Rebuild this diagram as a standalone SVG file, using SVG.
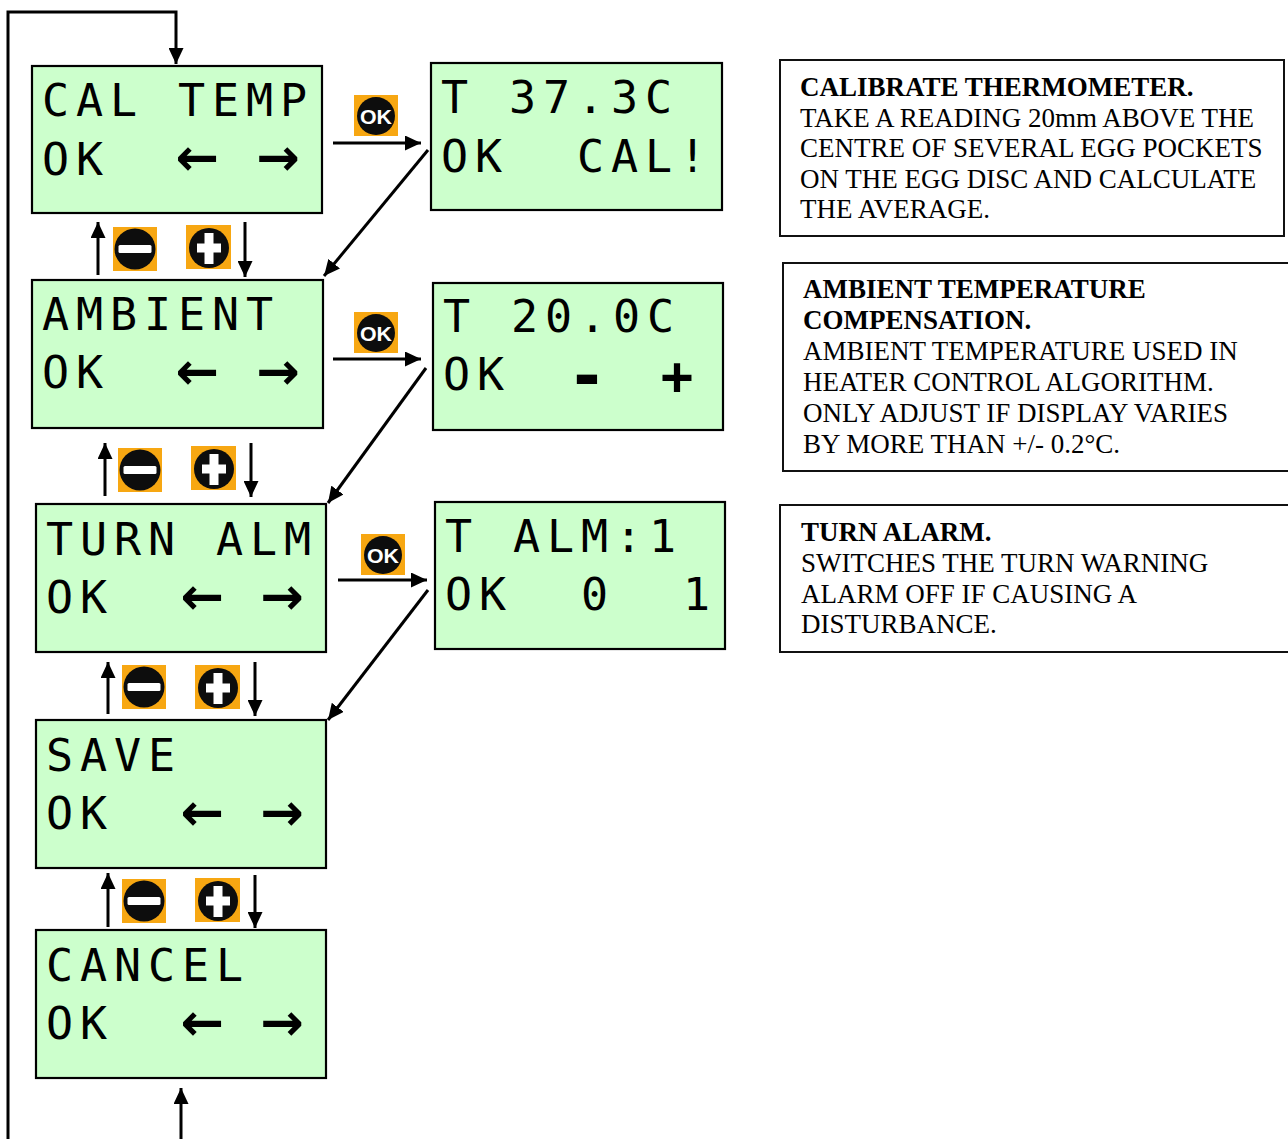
<svg xmlns="http://www.w3.org/2000/svg" width="1288" height="1139" viewBox="0 0 1288 1139">
<defs>
<style>
.lcd{fill:#ccffcc;stroke:#000;stroke-width:2.2}
.lt{font-family:"DejaVu Sans Mono",monospace;font-size:45px;fill:#000;letter-spacing:6.9px;white-space:pre}
.ar{font-family:"DejaVu Sans",sans-serif;font-weight:bold;font-size:52px;fill:#000;text-anchor:middle}
.note{fill:#fff;stroke:#111;stroke-width:2}
.nt{font-family:"Liberation Serif","Times New Roman",serif;font-size:27px;fill:#000}
.nb{font-weight:bold}
.con{fill:none;stroke:#000;stroke-width:3}
.org{fill:#f7a712}
.blk{fill:#0d0d0d}
.wht{fill:#fff}
.okt{font-family:"Liberation Sans",Arial,sans-serif;font-weight:bold;font-size:21px;fill:#fff;text-anchor:middle}
</style>
<marker id="ah" markerUnits="userSpaceOnUse" viewBox="0 0 16 15" refX="16" refY="7.5" markerWidth="16" markerHeight="15" orient="auto">
<path d="M0,0 L16,7.5 L0,15 z" fill="#000"/>
</marker>
<symbol id="minus" viewBox="0 0 44 44">
<rect class="org" x="0" y="0" width="44" height="44"/>
<circle class="blk" cx="22" cy="22" r="20.5"/>
<rect class="wht" x="5.5" y="18" width="33" height="8" rx="1.5"/>
</symbol>
<symbol id="plus" viewBox="0 0 45 44">
<rect class="org" x="0" y="0" width="45" height="44"/>
<circle class="blk" cx="23" cy="23" r="20"/>
<rect class="wht" x="11" y="18.5" width="24" height="9"/>
<rect class="wht" x="18.5" y="8" width="9" height="31"/>
</symbol>
<symbol id="okb" viewBox="0 0 44 41">
<rect class="org" x="0" y="0" width="44" height="41"/>
<circle class="blk" cx="22" cy="21" r="19"/>
</symbol>
</defs>
<rect width="1288" height="1139" fill="#fff"/>

<g id="connectors">
<path class="con" d="M8,1139 V12 H176 V64" marker-end="url(#ah)"/>
<path class="con" d="M181,1139 V1088" marker-end="url(#ah)"/>
<path class="con" d="M333,143 H421" marker-end="url(#ah)"/>
<path class="con" d="M333,359 H421" marker-end="url(#ah)"/>
<path class="con" d="M338,580 H427" marker-end="url(#ah)"/>
<path class="con" d="M428,150 L324,276" marker-end="url(#ah)"/>
<path class="con" d="M426,368 L328,503" marker-end="url(#ah)"/>
<path class="con" d="M428,590 L328,720" marker-end="url(#ah)"/>
<path class="con" d="M98,275 V222" marker-end="url(#ah)"/>
<path class="con" d="M245,222 V277" marker-end="url(#ah)"/>
<path class="con" d="M105,496 V443" marker-end="url(#ah)"/>
<path class="con" d="M251,443 V497" marker-end="url(#ah)"/>
<path class="con" d="M108,714 V662" marker-end="url(#ah)"/>
<path class="con" d="M255,662 V716" marker-end="url(#ah)"/>
<path class="con" d="M108,927 V873" marker-end="url(#ah)"/>
<path class="con" d="M255,875 V928" marker-end="url(#ah)"/>
</g>

<g id="buttons">
<use href="#okb" x="354" y="95" width="44" height="41"/>
<text class="okt" x="376" y="123.5" textLength="32" lengthAdjust="spacingAndGlyphs">OK</text>
<use href="#okb" x="354" y="312" width="44" height="41"/>
<text class="okt" x="376" y="340.5" textLength="32" lengthAdjust="spacingAndGlyphs">OK</text>
<use href="#okb" x="361" y="534" width="44" height="41"/>
<text class="okt" x="383" y="562.5" textLength="32" lengthAdjust="spacingAndGlyphs">OK</text>
<use href="#minus" x="113" y="227" width="44" height="44"/>
<use href="#plus" x="186" y="225" width="45" height="44"/>
<use href="#minus" x="118" y="448" width="44" height="44"/>
<use href="#plus" x="191" y="446" width="45" height="44"/>
<use href="#minus" x="122" y="665" width="44" height="44"/>
<use href="#plus" x="195" y="665" width="45" height="44"/>
<use href="#minus" x="122" y="879" width="44" height="44"/>
<use href="#plus" x="195" y="878" width="45" height="44"/>
</g>

<g id="cal-temp" transform="translate(32,66)">
<rect class="lcd" x="0" y="0" width="290" height="147"/>
<text class="lt" x="10" y="50">CAL TEMP</text>
<text class="lt" x="10" y="109">OK</text>
<text class="ar" x="165" y="109">←</text>
<text class="ar" x="246" y="109">→</text>
</g>
<g id="ambient" transform="translate(32,280)">
<rect class="lcd" x="0" y="0" width="291" height="148"/>
<text class="lt" x="10" y="50">AMBIENT</text>
<text class="lt" x="10" y="108">OK</text>
<text class="ar" x="165" y="109">←</text>
<text class="ar" x="246" y="109">→</text>
</g>
<g id="turn-alm" transform="translate(36,504)">
<rect class="lcd" x="0" y="0" width="290" height="148"/>
<text class="lt" x="10" y="51">TURN ALM</text>
<text class="lt" x="10" y="109">OK</text>
<text class="ar" x="166" y="110">←</text>
<text class="ar" x="246" y="110">→</text>
</g>
<g id="save" transform="translate(36,720)">
<rect class="lcd" x="0" y="0" width="290" height="148"/>
<text class="lt" x="10" y="51">SAVE</text>
<text class="lt" x="10" y="109">OK</text>
<text class="ar" x="166" y="110">←</text>
<text class="ar" x="246" y="110">→</text>
</g>
<g id="cancel" transform="translate(36,930)">
<rect class="lcd" x="0" y="0" width="290" height="148"/>
<text class="lt" x="10" y="51">CANCEL</text>
<text class="lt" x="10" y="109">OK</text>
<text class="ar" x="166" y="110">←</text>
<text class="ar" x="246" y="110">→</text>
</g>

<g id="t-cal" transform="translate(431,63)">
<rect class="lcd" x="0" y="0" width="291" height="147"/>
<text class="lt" x="10" y="50">T 37.3C</text>
<text class="lt" x="10" y="109">OK  CAL!</text>
</g>
<g id="t-amb" transform="translate(433,283)">
<rect class="lcd" x="0" y="0" width="290" height="147"/>
<text class="lt" x="10" y="49">T 20.0C</text>
<text class="lt" x="10" y="107">OK</text>
<text style="font-family:'DejaVu Sans',sans-serif;font-weight:bold;font-size:66px;text-anchor:middle" x="154" y="115">-</text>
<text style="font-family:'DejaVu Sans Mono',monospace;font-weight:bold;font-size:54px;text-anchor:middle" x="244" y="111">+</text>
</g>
<g id="t-alm" transform="translate(435,502)">
<rect class="lcd" x="0" y="0" width="290" height="147"/>
<text class="lt" x="10" y="50">T ALM:1</text>
<text class="lt" x="10" y="108">OK  0  1</text>
</g>

<g id="note-cal">
<rect class="note" x="780" y="60" width="504" height="176"/>
<text class="nt"><tspan class="nb" x="800" y="96">CALIBRATE THERMOMETER.</tspan><tspan x="800" y="126.5">TAKE A READING 20mm ABOVE THE</tspan><tspan x="800" y="157">CENTRE OF SEVERAL EGG POCKETS</tspan><tspan x="800" y="187.5">ON THE EGG DISC AND CALCULATE</tspan><tspan x="800" y="218">THE AVERAGE.</tspan></text>
</g>
<g id="note-amb">
<rect class="note" x="783" y="263" width="520" height="208"/>
<text class="nt"><tspan class="nb" x="803" y="298">AMBIENT TEMPERATURE</tspan><tspan class="nb" x="803" y="329">COMPENSATION.</tspan><tspan x="803" y="360">AMBIENT TEMPERATURE USED IN</tspan><tspan x="803" y="391">HEATER CONTROL ALGORITHM.</tspan><tspan x="803" y="422">ONLY ADJUST IF DISPLAY VARIES</tspan><tspan x="803" y="453">BY MORE THAN +/- 0.2°C.</tspan></text>
</g>
<g id="note-alm">
<rect class="note" x="780" y="505" width="520" height="147"/>
<text class="nt"><tspan class="nb" x="801" y="541">TURN ALARM.</tspan><tspan x="801" y="572">SWITCHES THE TURN WARNING</tspan><tspan x="801" y="603">ALARM OFF IF CAUSING A</tspan><tspan x="801" y="633">DISTURBANCE.</tspan></text>
</g>
</svg>
